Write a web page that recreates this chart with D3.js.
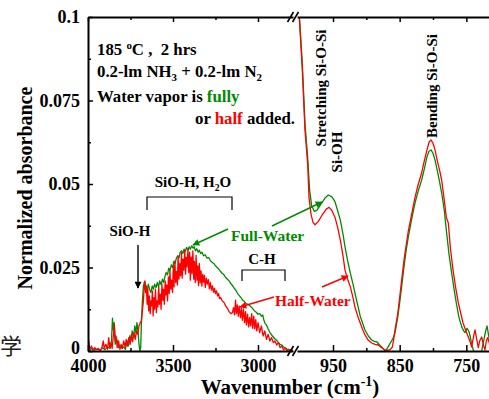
<!DOCTYPE html>
<html>
<head>
<meta charset="utf-8">
<script src="https://cdn.jsdelivr.net/npm/d3@7/dist/d3.min.js"></script>
<style>
  html, body { margin: 0; padding: 0; background: #fff; }
  svg text { font-family: "Liberation Serif", "Times New Roman", serif; font-weight: bold; white-space: pre; }
</style>
</head>
<body>
<div id="chart"></div>
<script>
// --- data ---
// high wavenumber segment: [wavenumber, normalized absorbance]
const fullWaterHigh = [
  [4000,0.0005],[3990,0.0002],[3975,0.0008],[3960,0.0003],[3945,0.0006],[3930,0.0002],[3915,0.0010],
  [3900,0.0004],[3885,0.0012],[3870,0.0008],[3862,0.0030],[3856,0.0098],[3850,0.0060],[3846,0.0085],
  [3840,0.0020],[3830,0.0035],[3820,0.0010],[3810,0.0015],[3800,0.0008],[3790,0.0012],[3780,0.0005],
  [3770,0.0030],[3762,0.0015],[3755,0.0045],[3748,0.0030],[3740,0.0060],[3732,0.0040],[3725,0.0075],
  [3718,0.0055],[3712,0.0085],[3706,0.0060],[3700,0.0020],[3695,0.0000],[3690,0.0010],[3686,0.0080],
  [3680,0.0150],[3674,0.0195],[3668,0.0208],[3660,0.0195],[3652,0.0180],[3645,0.0200],[3638,0.0185],
  [3630,0.0175],[3622,0.0195],[3615,0.0185],[3608,0.0200],[3600,0.0190],[3592,0.0205],[3585,0.0192],
  [3578,0.0210],[3570,0.0198],[3562,0.0215],[3555,0.0205],[3548,0.0222],[3540,0.0235],[3532,0.0228],
  [3525,0.0248],[3518,0.0240],[3510,0.0258],[3502,0.0250],[3495,0.0268],[3488,0.0262],[3480,0.0278],
  [3472,0.0285],[3465,0.0278],[3458,0.0295],[3450,0.0300],[3442,0.0292],[3435,0.0305],[3428,0.0298],
  [3420,0.0310],[3412,0.0302],[3405,0.0312],[3398,0.0305],[3390,0.0315],[3382,0.0308],[3375,0.0312],
  [3368,0.0300],[3360,0.0306],[3352,0.0296],[3345,0.0302],[3338,0.0292],[3330,0.0296],[3320,0.0285],
  [3310,0.0288],[3300,0.0278],[3290,0.0280],[3280,0.0270],[3270,0.0266],[3260,0.0262],[3250,0.0255],
  [3240,0.0250],[3230,0.0245],[3220,0.0238],[3210,0.0232],[3200,0.0228],[3190,0.0220],[3180,0.0215],
  [3170,0.0210],[3160,0.0202],[3150,0.0196],[3140,0.0188],[3130,0.0182],[3120,0.0172],[3110,0.0166],
  [3100,0.0160],[3090,0.0152],[3080,0.0148],[3070,0.0142],[3060,0.0140],[3050,0.0136],[3040,0.0132],
  [3030,0.0126],[3020,0.0120],[3010,0.0116],[3000,0.0110],[2990,0.0112],[2980,0.0104],[2972,0.0108],
  [2965,0.0092],[2958,0.0082],[2950,0.0078],[2940,0.0066],[2930,0.0056],[2920,0.0048],[2910,0.0042],
  [2900,0.0036],[2890,0.0032],[2880,0.0026],[2870,0.0020],[2860,0.0018],[2850,0.0012],[2840,0.0010],
  [2830,0.0006],[2820,0.0004],[2810,0.0003],[2800,0.0002],[2795,0.0002]
];
const halfWaterHigh = [
  [4000,0.0010],[3995,0.0030],[3990,0.0005],[3980,0.0015],[3970,0.0002],[3960,0.0010],[3950,0.0004],
  [3940,0.0008],[3930,0.0002],[3920,0.0006],[3910,0.0030],[3905,0.0008],[3895,0.0020],[3885,0.0005],
  [3878,0.0040],[3872,0.0010],[3865,0.0025],[3858,0.0008],[3850,0.0050],[3845,0.0080],[3840,0.0030],
  [3835,0.0045],[3828,0.0010],[3820,0.0030],[3812,0.0005],[3805,0.0020],[3798,0.0008],[3790,0.0030],
  [3782,0.0012],[3775,0.0035],[3768,0.0015],[3760,0.0040],[3752,0.0020],[3745,0.0050],[3738,0.0028],
  [3730,0.0055],[3722,0.0035],[3715,0.0060],[3708,0.0050],[3700,0.0075],[3692,0.0085],[3686,0.0090],
  [3680,0.0120],[3674,0.0150],[3670,0.0185],[3665,0.0210],[3661,0.0175],[3657,0.0195],[3652,0.0140],
  [3648,0.0185],[3643,0.0120],[3639,0.0165],[3634,0.0112],[3630,0.0150],[3626,0.0135],[3621,0.0180],
  [3617,0.0105],[3612,0.0160],[3608,0.0125],[3603,0.0185],[3598,0.0115],[3594,0.0150],[3589,0.0132],
  [3584,0.0192],[3580,0.0140],[3575,0.0170],[3570,0.0125],[3565,0.0200],[3560,0.0152],[3556,0.0185],
  [3551,0.0140],[3546,0.0210],[3542,0.0168],[3537,0.0198],[3532,0.0150],[3527,0.0222],[3522,0.0172],
  [3518,0.0240],[3513,0.0185],[3508,0.0212],[3503,0.0175],[3498,0.0255],[3494,0.0192],[3489,0.0270],
  [3484,0.0205],[3479,0.0238],[3474,0.0198],[3470,0.0285],[3465,0.0215],[3460,0.0262],[3455,0.0225],
  [3450,0.0295],[3446,0.0218],[3441,0.0275],[3436,0.0242],[3431,0.0302],[3426,0.0230],[3422,0.0280],
  [3417,0.0252],[3412,0.0306],[3407,0.0235],[3402,0.0296],[3398,0.0212],[3393,0.0282],[3388,0.0232],
  [3383,0.0300],[3378,0.0215],[3374,0.0268],[3369,0.0205],[3364,0.0286],[3359,0.0212],[3354,0.0255],
  [3350,0.0196],[3345,0.0262],[3340,0.0204],[3335,0.0240],[3330,0.0194],[3325,0.0230],[3320,0.0206],
  [3315,0.0226],[3310,0.0190],[3304,0.0218],[3298,0.0200],[3292,0.0214],[3286,0.0186],[3280,0.0205],
  [3274,0.0182],[3268,0.0195],[3262,0.0176],[3256,0.0188],[3250,0.0172],[3244,0.0180],[3238,0.0165],
  [3232,0.0172],[3226,0.0157],[3220,0.0160],[3210,0.0150],[3200,0.0145],[3190,0.0135],[3180,0.0128],
  [3170,0.0118],[3160,0.0112],[3150,0.0115],[3144,0.0130],[3138,0.0108],[3132,0.0152],[3127,0.0112],
  [3121,0.0138],[3116,0.0104],[3110,0.0134],[3103,0.0100],[3097,0.0128],[3092,0.0092],[3085,0.0126],
  [3079,0.0085],[3073,0.0118],[3068,0.0078],[3061,0.0110],[3055,0.0072],[3049,0.0100],[3043,0.0075],
  [3037,0.0112],[3031,0.0068],[3025,0.0104],[3019,0.0066],[3013,0.0094],[3007,0.0060],[3000,0.0085],
  [2990,0.0055],[2980,0.0075],[2970,0.0045],[2960,0.0060],[2950,0.0035],[2940,0.0050],[2930,0.0030],
  [2920,0.0040],[2910,0.0025],[2900,0.0030],[2890,0.0018],[2880,0.0025],[2870,0.0010],[2860,0.0015],
  [2850,0.0004],[2840,0.0008],[2830,0.0002],[2820,0.0005],[2810,0.0001],[2800,0.0003],[2795,0.0001]
];
// low wavenumber segment
const fullWaterLow = [
  [1010,0.125],[1004,0.110],[1000,0.099],[996,0.086],[992,0.068],[988,0.058],[985,0.048],[982,0.0435],
  [978,0.0418],[974,0.0422],[968,0.0440],[962,0.0458],[957,0.0467],[952,0.0462],[947,0.0447],[943,0.0420],
  [939,0.0392],[935,0.0350],[932,0.0312],[928,0.0270],[924,0.0233],[920,0.0200],[917,0.0173],[913,0.0138],
  [909,0.0103],[905,0.0080],[902,0.0063],[897,0.0045],[892,0.0033],[888,0.0029],[884,0.0027],[880,0.0018],
  [877,0.0012],[874,0.0005],[871,0.0000],[868,0.0010],[864,0.0024],[860,0.0038],[857,0.0054],[853,0.0100],
  [850,0.0145],[847,0.0193],[843,0.0260],[840,0.0305],[837,0.0342],[832,0.0395],[827,0.0443],[822,0.0480],
  [817,0.0512],[813,0.0545],[809,0.0582],[806,0.0598],[803,0.0602],[800,0.0592],[797,0.0572],[793,0.0535],
  [790,0.0505],[787,0.0473],[783,0.0420],[780,0.0362],[776,0.0290],[772,0.0233],[768,0.0180],[765,0.0143],
  [761,0.0100],[757,0.0073],[754,0.0060],[752,0.0055],[749,0.0068],[746,0.0058],[744,0.0042],[742,0.0020],
  [739,0.0000],[735,-0.0010],[730,-0.0010],[727,0.0000],[724,0.0030],[721,0.0060],[719,0.0075],[716,0.0040],
  [714,0.0020]
];
const halfWaterLow = [
  [1010,0.125],[1004,0.109],[1000,0.098],[996,0.084],[992,0.066],[988,0.056],[986,0.046],[983,0.041],
  [980,0.0385],[977,0.0378],[972,0.0388],[966,0.0408],[960,0.0425],[956,0.0430],[952,0.0422],[947,0.0400],
  [943,0.0370],[939,0.0332],[935,0.0285],[932,0.0242],[928,0.0215],[924,0.0192],[920,0.0160],[917,0.0131],
  [913,0.0105],[909,0.0083],[905,0.0062],[902,0.0048],[897,0.0032],[892,0.0024],[887,0.0020],[882,0.0018],
  [877,0.0010],[872,0.0003],[867,0.0002],[864,0.0005],[861,0.0012],[859,0.0035],[857,0.0063],[853,0.0110],
  [850,0.0160],[847,0.0213],[843,0.0280],[840,0.0320],[837,0.0360],[832,0.0410],[827,0.0460],[822,0.0500],
  [817,0.0533],[813,0.0570],[809,0.0602],[806,0.0625],[803,0.0632],[800,0.0622],[797,0.0602],[793,0.0565],
  [790,0.0540],[787,0.0512],[783,0.0450],[780,0.0400],[777,0.0383],[774,0.0310],[770,0.0243],[766,0.0190],
  [762,0.0144],[758,0.0110],[755,0.0084],[751,0.0062],[747,0.0042],[744,0.0025],[742,0.0012],[739,0.0045],
  [737,0.0063],[734,0.0030],[732,0.0010],[730,0.0030],[727,0.0042],[724,0.0015],[722,0.0003],[720,0.0030],
  [718,0.0040],[715,0.0020]
];

const yTicks = [0, 0.025, 0.05, 0.075, 0.1];
const yTickLabels = ["0", "0.025", "0.05", "0.075", "0.1"];
const yMinorTicks = [0.0125, 0.0375, 0.0625, 0.0875];
const xHighTicks = [4000, 3500, 3000];
const xHighLabels = ["4000", "3500", "3000"];
const xHighMinorTicks = [3750, 3250];
const xLowTicks = [950, 850, 750];
const xLowLabels = ["950", "850", "750"];
const xLowMinorTicks = [900, 800];

const green = "#008a00", red = "#ff0000";

// --- layout ---
const width = 489, height = 399;
const plotTop = 17, plotBottom = 351, plotLeft = 88, breakL = 293, breakR = 297, plotRight = 489;

const svg = d3.select("#chart").append("svg")
  .attr("width", width).attr("height", height);

const y = d3.scaleLinear().domain([0, 0.1]).range([plotBottom, plotTop]);
const xHigh = d3.scaleLinear().domain([4000, 2794]).range([plotLeft, breakL]);
const xLow = d3.scaleLinear().domain([1004, 716]).range([breakR, plotRight]);

// clip each segment
const defs = svg.append("defs");
defs.append("clipPath").attr("id", "clipHigh").append("rect")
  .attr("x", plotLeft).attr("y", plotTop).attr("width", breakL - plotLeft).attr("height", plotBottom - plotTop + 1);
defs.append("clipPath").attr("id", "clipLow").append("rect")
  .attr("x", breakR).attr("y", plotTop).attr("width", plotRight - breakR + 5).attr("height", plotBottom - plotTop + 1);

function arrowMarker(id, color) {
  defs.append("marker").attr("id", id)
    .attr("viewBox", "0 0 10 10").attr("refX", 9).attr("refY", 5)
    .attr("markerWidth", 8).attr("markerHeight", 7).attr("markerUnits", "userSpaceOnUse")
    .attr("orient", "auto")
    .append("path").attr("d", "M0,0 L10,5 L0,10 Z").attr("fill", color);
}
arrowMarker("arrowGreen", green);
arrowMarker("arrowRed", red);
arrowMarker("arrowBlack", "#000");

// --- curves ---
function plotLine(data, xScale, clip, color) {
  const line = d3.line().x(d => xScale(d[0])).y(d => y(d[1]));
  svg.append("path")
    .datum(data)
    .attr("clip-path", "url(#" + clip + ")")
    .attr("fill", "none")
    .attr("stroke", color)
    .attr("stroke-width", 1.3)
    .attr("stroke-linejoin", "round")
    .attr("d", line);
}
plotLine(fullWaterHigh, xHigh, "clipHigh", green);
plotLine(halfWaterHigh, xHigh, "clipHigh", red);
plotLine(fullWaterLow, xLow, "clipLow", green);
plotLine(halfWaterLow, xLow, "clipLow", red);

// --- axes ---
function styleAxis(g) {
  g.select(".domain").attr("stroke-width", 2);
  g.selectAll(".tick line").attr("stroke-width", 1.5);
  g.selectAll(".tick text").attr("font-size", 18).attr("fill", "#000");
}

function xAxes(xScale, ticks, labels, minor) {
  svg.append("g").attr("transform", "translate(0," + plotBottom + ")")
    .call(d3.axisBottom(xScale).tickValues(ticks).tickSizeInner(-6).tickSizeOuter(0).tickPadding(8)
      .tickFormat((d, i) => labels[i]))
    .call(styleAxis);
  svg.append("g").attr("transform", "translate(0," + plotBottom + ")")
    .call(d3.axisBottom(xScale).tickValues(minor).tickSizeInner(-3).tickSizeOuter(0).tickFormat(""))
    .call(g => g.select(".domain").remove())
    .call(styleAxis);
  svg.append("g").attr("transform", "translate(0," + plotTop + ")")
    .call(d3.axisTop(xScale).tickValues(ticks).tickSizeInner(-5).tickSizeOuter(0).tickFormat(""))
    .call(styleAxis);
  svg.append("g").attr("transform", "translate(0," + plotTop + ")")
    .call(d3.axisTop(xScale).tickValues(minor).tickSizeInner(-3).tickSizeOuter(0).tickFormat(""))
    .call(g => g.select(".domain").remove())
    .call(styleAxis);
}
xAxes(xHigh, xHighTicks, xHighLabels, xHighMinorTicks);
xAxes(xLow, xLowTicks, xLowLabels, xLowMinorTicks);

svg.append("g").attr("transform", "translate(" + plotLeft + ",0)")
  .call(d3.axisLeft(y).tickValues(yTicks).tickSizeInner(-5).tickSizeOuter(0).tickPadding(8)
    .tickFormat((d, i) => yTickLabels[i]))
  .call(styleAxis)
  // the "0" label sits a little higher so it clears "4000"
  .call(g => g.selectAll(".tick text").filter(d => d === 0).attr("y", -3));
svg.append("g").attr("transform", "translate(" + plotLeft + ",0)")
  .call(d3.axisLeft(y).tickValues(yMinorTicks).tickSizeInner(-3).tickSizeOuter(0).tickFormat(""))
  .call(g => g.select(".domain").remove())
  .call(styleAxis);

// axis break marks
[plotBottom, plotTop].forEach(yy => {
  [290.5, 295.5].forEach(cx => {
    svg.append("line")
      .attr("x1", cx - 3).attr("y1", yy + 5).attr("x2", cx + 3).attr("y2", yy - 5)
      .attr("stroke", "#000").attr("stroke-width", 1.6);
  });
});

// axis titles
const xTitle = svg.append("text").attr("x", 290).attr("y", 394)
  .attr("text-anchor", "middle").attr("font-size", 21).text("Wavenumber (cm");
xTitle.append("tspan").attr("dy", -8).attr("font-size", 14).text("-1");
xTitle.append("tspan").attr("dy", 8).text(")");

svg.append("text")
  .attr("transform", "translate(32,188) rotate(-90)")
  .attr("text-anchor", "middle").attr("font-size", 20)
  .text("Normalized absorbance");

// --- annotations ---
function richText(x, yy, size, parts, anchor) {
  const t = svg.append("text").attr("x", x).attr("y", yy).attr("font-size", size)
    .attr("text-anchor", anchor || "start");
  parts.forEach(p => {
    const s = t.append("tspan").text(p.t);
    if (p.c) s.attr("fill", p.c);
    if (p.sub) s.attr("font-size", size * 0.65).attr("dy", 4);
    if (p.sup) s.attr("font-size", size * 0.65).attr("dy", -6);
    if (p.back) s.attr("dy", p.back);
  });
  return t;
}

richText(97, 55, 16.8, [{t: "185 "}, {t: "o", sup: true}, {t: "C ,  2 hrs", back: 6}]);
richText(97, 77, 16.8, [{t: "0.2-lm NH"}, {t: "3", sub: true}, {t: " + 0.2-lm N", back: -4}, {t: "2", sub: true}]);
richText(97, 102, 16.8, [{t: "Water vapor is "}, {t: "fully", c: green}]);
richText(195, 124, 16.8, [{t: "or "}, {t: "half", c: red}, {t: " added."}]);

richText(193, 187, 15, [{t: "SiO-H, H"}, {t: "2", sub: true}, {t: "O", back: -4}], "middle");
richText(130, 236, 15, [{t: "SiO-H"}], "middle");
richText(262, 264, 15, [{t: "C-H"}], "middle");
richText(231, 241, 15.5, [{t: "Full-Water", c: green}]);
richText(275, 306, 15.5, [{t: "Half-Water", c: red}]);

function bracket(x1, x2, yy, drop) {
  svg.append("path")
    .attr("d", "M" + x1 + "," + (yy + drop) + "V" + yy + "H" + x2 + "V" + (yy + drop))
    .attr("fill", "none").attr("stroke", "#000").attr("stroke-width", 1.2);
}
bracket(147, 232, 197, 13);
bracket(242, 285, 270, 11);

function arrow(x1, y1, x2, y2, color, marker) {
  svg.append("line").attr("x1", x1).attr("y1", y1).attr("x2", x2).attr("y2", y2)
    .attr("stroke", color).attr("stroke-width", 1.4)
    .attr("marker-end", "url(#" + marker + ")");
}
arrow(138, 245, 138, 288, "#000", "arrowBlack");
arrow(228, 229, 193, 245, green, "arrowGreen");
arrow(272, 226, 322, 202, green, "arrowGreen");
arrow(274, 297, 240, 307, red, "arrowRed");
arrow(322, 287, 348, 276, red, "arrowRed");

function verticalText(x, yy, size, str) {
  svg.append("text")
    .attr("transform", "translate(" + x + "," + yy + ") rotate(-90)")
    .attr("text-anchor", "middle").attr("font-size", size).text(str);
}
verticalText(326, 88, 15, "Stretching Si-O-Si");
verticalText(342, 152, 15, "Si-OH");
verticalText(437, 86, 15, "Bending Si-O-Si");

// page fragment at the left edge
svg.append("text").attr("x", 0).attr("y", 354)
  .style("font-family", "'Noto Sans CJK SC', sans-serif").style("font-weight", "normal")
  .attr("font-size", 22).attr("fill", "#222").text("学");
</script>
</body>
</html>
